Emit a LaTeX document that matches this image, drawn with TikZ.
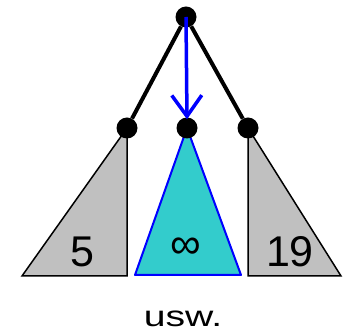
\documentclass[tikz,border=0pt]{standalone}
\usepackage{fontspec}
\setmainfont{Liberation Sans}
\newfontfamily\uswfont[FakeStretch=1.35]{Liberation Sans}
\usetikzlibrary{arrows.meta}
\definecolor{treegrey}{RGB}{192,192,192}
\definecolor{treecyan}{RGB}{51,204,204}
\begin{document}
\begin{tikzpicture}[x=1pt,y=-1pt,
  dot/.style={circle,fill=black,inner sep=0pt,minimum size=21pt},
  greytri/.style={fill=treegrey,draw=black,line width=1.5pt,line join=miter},
  cyantri/.style={fill=treecyan,draw=blue,line width=2pt,line join=round},
  edge/.style={line width=4pt},
  bigtxt/.style={anchor=base,inner sep=0pt,font=\fontsize{43}{43}\selectfont},
  smalltxt/.style={anchor=base,inner sep=0pt,font=\uswfont\fontsize{29}{29}\selectfont}]
\useasboundingbox (0,0) rectangle (343,336);
% triangles
\draw[greytri] (127,128) -- (127,276) -- (22,276) -- cycle;
\draw[cyantri] (187,128) -- (241,275) -- (135,275) -- cycle;
\draw[greytri] (248,128) -- (248,276) -- (341,276) -- cycle;
% nodes
\node[dot] (top) at (186,17) {};
\node[dot] (l) at (127,128) {};
\node[dot] (m) at (187,128) {};
\node[dot] (r) at (248,128) {};
\draw[edge] (top) -- (l);
\draw[edge] (top) -- (r);
\draw[blue,line width=3.5pt,-{Straight Barb[length=21pt,width=30pt,line width=3.5pt]}] (top.center) -- ([yshift=-2pt]m.north);
% labels
\node[bigtxt] (t5) at (82,266.5) {5};
\node[bigtxt] (tinf) at (186,259) {∞};
\node[bigtxt] (t19) at (290,266.5) {19};
\node[smalltxt] (usw) at (183,327) {usw.};
\end{tikzpicture}
\end{document}
